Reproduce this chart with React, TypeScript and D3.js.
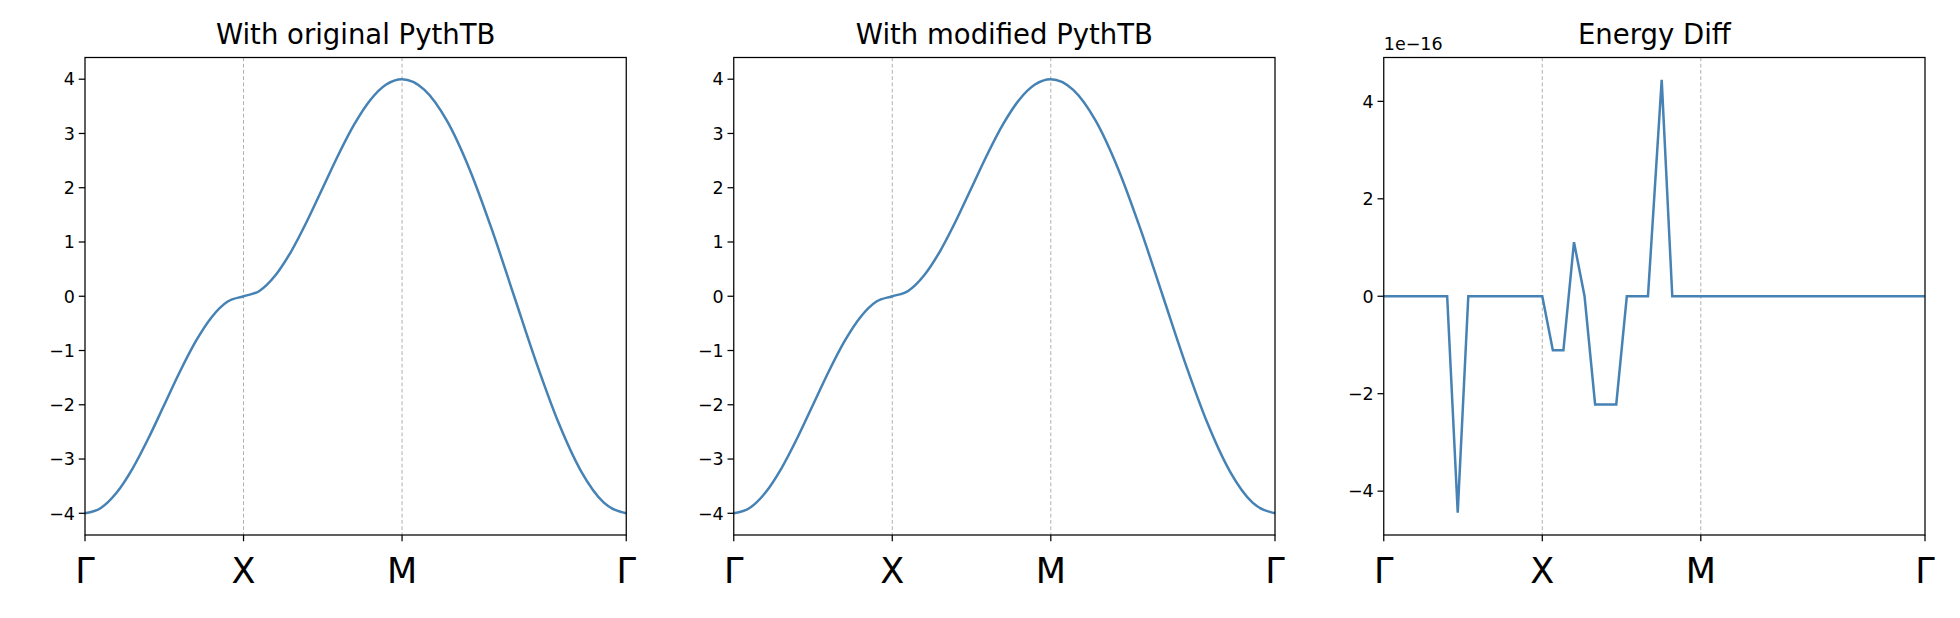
import React from 'react';
import * as d3 from 'd3';

// k-path distance, Γ-X segment = 1
const kBand = [0, 0.1, 0.2, 0.3, 0.4, 0.5, 0.6, 0.7, 0.8, 0.9, 1,
  1.1, 1.2, 1.3, 1.4, 1.5, 1.6, 1.7, 1.8, 1.9, 2,
  2.1414, 2.2828, 2.4243, 2.5657, 2.7071, 2.8485, 2.9899, 3.1314, 3.2728, 3.4142];
const energy = [-4, -3.902, -3.618, -3.176, -2.618, -2, -1.382, -0.824, -0.382, -0.098, 0,
  0.098, 0.382, 0.824, 1.382, 2, 2.618, 3.176, 3.618, 3.902, 4,
  3.804, 3.236, 2.351, 1.236, 0, -1.236, -2.351, -3.236, -3.804, -4];

// energy difference (units 1e-16), k in steps of 1/15
const kDiffStep = [0, 6, 7, 8, 15, 16, 17, 18, 19, 20, 22, 23, 25, 26.3, 27.3, 51.2];
const diff = [0, 0, -4.44, 0, 0, -1.11, -1.11, 1.11, 0, -2.22, -2.22, 0, 0, 4.44, 0, 0];

const nodeLabels = ['Γ', 'X', 'M', 'Γ'];
const nodePos = [0, 1, 2, 3.4142];
const bandTicks = [-4, -3, -2, -1, 0, 1, 2, 3, 4];
const diffTicks = [-4, -2, 0, 2, 4];
const titles = ['With original PythTB', 'With modified PythTB', 'Energy Diff'];

const top = 46, bottom = 428, pw = 433;
const lefts = [68, 587, 1107];
const font = 'DejaVu Sans, sans-serif';

function Panel({ i }: { i: number }) {
  const left = lefts[i];
  const x = d3.scaleLinear().domain([0, 3.4142]).range([left, left + pw]);
  const isDiff = i === 2;
  const y = isDiff
    ? d3.scaleLinear().domain([-4.9, 4.9]).range([bottom, top])
    : d3.scaleLinear().domain([-4.4, 4.4]).range([bottom, top]);
  const ticks = isDiff ? diffTicks : bandTicks;
  let path: string;
  if (isDiff) {
    const pts = kDiffStep.map((k, j) => [k / 15, diff[j]] as [number, number]);
    path = d3.line<[number, number]>().x(d => x(d[0])).y(d => y(d[1]))(pts) || '';
  } else {
    const pts = kBand.map((k, j) => [k, energy[j]] as [number, number]);
    path = d3.line<[number, number]>().x(d => x(d[0])).y(d => y(d[1])).curve(d3.curveMonotoneX)(pts) || '';
  }
  return (
    <g fontFamily={font}>
      <text x={left + pw / 2} y={35} textAnchor="middle" fontSize={22}>{titles[i]}</text>
      {nodePos.slice(1, 3).map((p, j) => (
        <line key={j} x1={x(p)} x2={x(p)} y1={top} y2={bottom} stroke="#b0b0b0" strokeWidth={0.8} strokeDasharray="3,2" />
      ))}
      <path d={path} fill="none" stroke="#4682b4" strokeWidth={2} />
      <rect x={left} y={top} width={pw} height={bottom - top} fill="none" stroke="#000" strokeWidth={1} />
      {ticks.map(t => (
        <g key={t}>
          <line x1={left - 5} x2={left} y1={y(t)} y2={y(t)} stroke="#000" />
          <text x={left - 8} y={y(t) + 5} textAnchor="end" fontSize={14}>{t < 0 ? '−' + Math.abs(t) : t}</text>
        </g>
      ))}
      {nodePos.map((p, j) => (
        <g key={j}>
          <line x1={x(p)} x2={x(p)} y1={bottom} y2={bottom + 5} stroke="#000" />
          <text x={x(p)} y={bottom + 38} textAnchor="middle" fontSize={28}>{nodeLabels[j]}</text>
        </g>
      ))}
      {isDiff && <text x={left} y={top - 6} fontSize={14}>1e−16</text>}
    </g>
  );
}

export default function App() {
  return (
    <svg width={1960} height={618} viewBox="0 0 1568 494.4" style={{ display: 'block', margin: -8 }}>
      <rect width={1568} height={494.4} fill="#fff" />
      {[0, 1, 2].map(i => <Panel key={i} i={i} />)}
    </svg>
  );
}
